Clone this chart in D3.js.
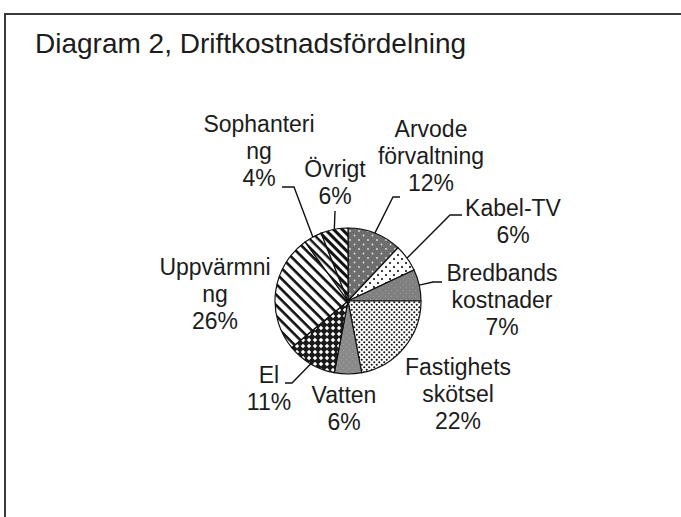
<!DOCTYPE html>
<html>
<head>
<meta charset="utf-8">
<script src="https://cdn.jsdelivr.net/npm/d3@7"></script>
<style>
  body { margin: 0; background: #fff; }
  text { font-family: 'Liberation Sans', Arial, sans-serif; fill: #1c1c1c; }
</style>
</head>
<body>
<div id="chart"></div>
<script>
// Data
const categories = ['Arvode förvaltning', 'Kabel-TV', 'Bredbands kostnader', 'Fastighets skötsel',
  'Vatten', 'El', 'Uppvärmning', 'Sophantering', 'Övrigt'];
const shares = [12, 6, 7, 22, 6, 11, 26, 4, 6];
// label text as wrapped in the original
const labelLines = [['Arvode', 'förvaltning'], ['Kabel-TV'], ['Bredbands', 'kostnader'],
  ['Fastighets', 'skötsel'], ['Vatten'], ['El'], ['Uppvärmni', 'ng'], ['Sophanteri', 'ng'], ['Övrigt']];

const width = 681, height = 517;
const cx = 348, cy = 301, r = 73;

const svg = d3.select('#chart').append('svg')
  .attr('width', width).attr('height', height);

// frame (only top and left edges are visible in the scan)
svg.append('path')
  .attr('d', `M5,${height} L5,14 L${width},14`)
  .attr('fill', 'none').attr('stroke', '#3a3a3a').attr('stroke-width', 2);

svg.append('text')
  .attr('x', 35).attr('y', 53)
  .style('font-size', '28px')
  .text('Diagram 2, Driftkostnadsfördelning');

// fill patterns
const defs = svg.append('defs');
function pattern(id, w, h, bg) {
  const p = defs.append('pattern').attr('id', id)
    .attr('patternUnits', 'userSpaceOnUse').attr('width', w).attr('height', h);
  p.append('rect').attr('width', w).attr('height', h).attr('fill', bg);
  return p;
}
function dots(p, pts, rad, col) {
  pts.forEach(([x, y]) => p.append('circle').attr('cx', x).attr('cy', y).attr('r', rad).attr('fill', col));
}
function stripes(id, h, sw) {
  const p = pattern(id, 4, h, '#fff').attr('patternTransform', 'rotate(45)');
  p.append('rect').attr('width', 4).attr('height', sw).attr('fill', '#111');
}

dots(pattern('p0', 9, 9, '#6e6e6e'), [[2, 2], [6.5, 6.5]], 0.9, '#e0e0e0');
dots(pattern('p1', 8, 8, '#fff'), [[2, 2], [6, 6]], 1.1, '#111');
dots(pattern('p2', 6, 6, '#808080'), [[1.5, 1.5], [4.5, 4.5]], 0.6, '#9c9c9c');
dots(pattern('p3', 5, 5, '#fff'), [[1.25, 1.25], [3.75, 3.75]], 1.05, '#111');
dots(pattern('p4', 6, 6, '#8a8a8a'), [[1.5, 1.5], [4.5, 4.5]], 0.6, '#a4a4a4');
// El: dark lattice with small white diamonds
const pEl = pattern('p5', 6, 6, '#1a1a1a');
pEl.append('path').attr('d', 'M3,0.8 L5.2,3 L3,5.2 L0.8,3 Z').attr('fill', '#fff');
stripes('p6', 7.5, 2.6);
stripes('p7', 6, 2.4);
stripes('p8', 6, 3.1);

const pie = d3.pie().value((d) => d).sort(null);
const arcs = pie(shares);
const arc = d3.arc().innerRadius(0).outerRadius(r);
const edge = d3.arc().innerRadius(r).outerRadius(r);

const g = svg.append('g').attr('transform', `translate(${cx},${cy})`);

g.selectAll('path.slice')
  .data(arcs)
  .enter()
  .append('path')
  .attr('class', 'slice')
  .attr('d', arc)
  .attr('fill', (d, i) => `url(#p${i})`)
  .attr('stroke', '#111')
  .attr('stroke-width', 1.2);

// label layout: centre x, first baseline, optional leader elbow (absolute coords)
const labelPos = [
  { x: 431, y: 137, leader: [[400, 197], [393, 197]] },
  { x: 513, y: 216, leader: [[462, 215], [450, 215]] },
  { x: 502, y: 281, leader: [[442, 282], [433, 282]] },
  { x: 458, y: 375 },
  { x: 344, y: 403 },
  { x: 269, y: 383, leader: [[285, 383], [292, 383]] },
  { x: 215, y: 275 },
  { x: 259, y: 132, leader: [[282, 187], [294, 187]] },
  { x: 335, y: 177, leader: [[335, 211]] },
];
const lineH = 27;

arcs.forEach((d, i) => {
  const pos = labelPos[i];
  const lines = labelLines[i].concat([shares[i] + '%']);
  const t = svg.append('text')
    .attr('text-anchor', 'middle')
    .style('font-size', '23px');
  lines.forEach((s, k) => {
    t.append('tspan').attr('x', pos.x).attr('y', pos.y + k * lineH).text(s);
  });
  if (pos.leader) {
    const [ex, ey] = edge.centroid(d);
    const pts = pos.leader.concat([[cx + ex, cy + ey]]);
    svg.append('path')
      .attr('d', d3.line()(pts))
      .attr('fill', 'none')
      .attr('stroke', '#111')
      .attr('stroke-width', 1.4);
  }
});
</script>
</body>
</html>
